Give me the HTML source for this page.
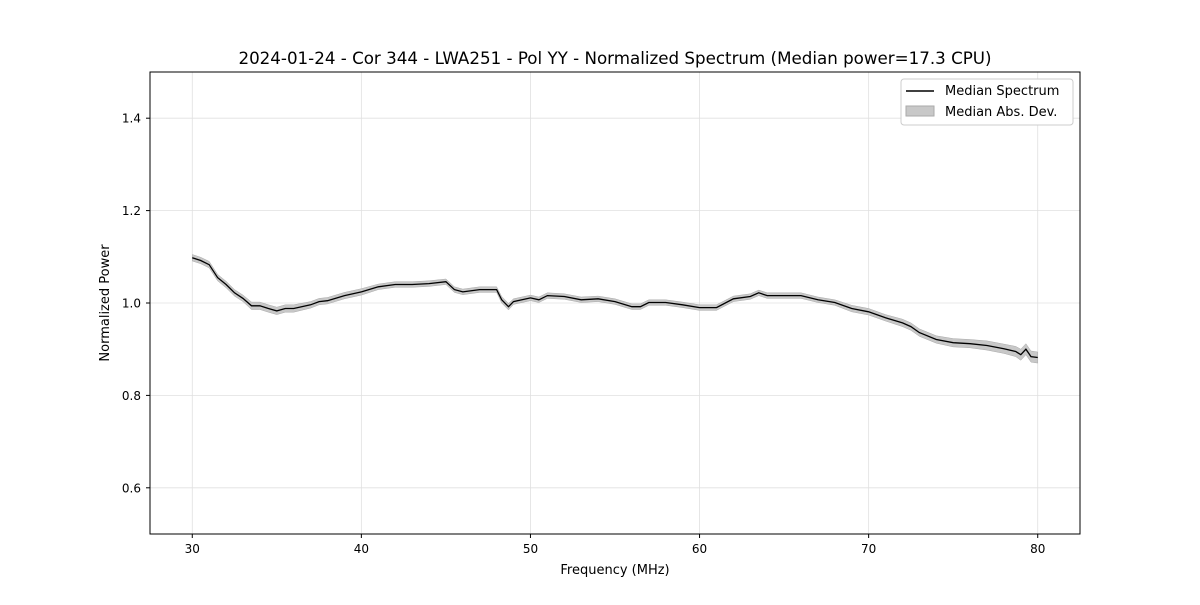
<!DOCTYPE html>
<html><head><meta charset="utf-8"><style>
body{margin:0;background:#fff;font-family:"Liberation Sans","DejaVu Sans",sans-serif}
svg text{font-family:"DejaVu Sans","Liberation Sans",sans-serif}
</style></head><body>
<svg id="chart" width="1200" height="600" viewBox="0 0 1200 600">
<rect width="1200" height="600" fill="#fff"/>
<g id="grid"></g>
<path id="band" fill="#c8c8c8" stroke="#aaa" stroke-width="0.5"/>
<path id="line" fill="none" stroke="#000" stroke-width="1.3"/>
<rect x="150" y="72" width="930" height="462" fill="none" stroke="#000" stroke-width="1"/>
<g id="ticks"></g>
<text x="615" y="64" text-anchor="middle" font-size="16.7">2024-01-24 - Cor 344 - LWA251 - Pol YY - Normalized Spectrum (Median power=17.3 CPU)</text>
<text x="615" y="574" text-anchor="middle" font-size="13">Frequency (MHz)</text>
<text x="109" y="303" text-anchor="middle" font-size="13" transform="rotate(-90 109 303)">Normalized Power</text>
<g>
<rect x="901" y="79" width="172" height="46" rx="3" fill="#fff" stroke="#ccc"/>
<line x1="906" y1="91" x2="934" y2="91" stroke="#000" stroke-width="1.5"/>
<text x="945" y="95" font-size="13">Median Spectrum</text>
<rect x="906" y="106" width="28" height="10" fill="#c8c8c8" stroke="#aaa"/>
<text x="945" y="116" font-size="13">Median Abs. Dev.</text>
</g>
</svg>
<script>
const freqs=[30,30.5,31,31.5,32,32.5,33,33.5,34,34.5,35,35.5,36,37,37.5,38,39,40,41,42,43,44,45,45.5,46,47,48,48.3,48.7,49,50,50.5,51,52,53,54,55,56,56.5,57,58,59,60,61,62,63,63.5,64,65,66,67,68,69,70,71,72,72.5,73,74,75,76,77,78,78.7,79,79.3,79.6,80];
const power=[1.098,1.092,1.083,1.055,1.04,1.022,1.01,0.994,0.994,0.988,0.983,0.988,0.988,0.996,1.003,1.005,1.016,1.024,1.035,1.04,1.04,1.042,1.046,1.029,1.024,1.029,1.029,1.007,0.992,1.003,1.011,1.007,1.016,1.014,1.007,1.009,1.003,0.992,0.992,1.001,1.001,0.996,0.99,0.99,1.009,1.014,1.022,1.016,1.016,1.016,1.007,1.001,0.988,0.981,0.968,0.957,0.949,0.936,0.921,0.914,0.912,0.908,0.901,0.895,0.888,0.9,0.884,0.882];
const mad=[0.007,0.007,0.007,0.007,0.007,0.007,0.007,0.008,0.008,0.008,0.008,0.008,0.008,0.007,0.007,0.007,0.007,0.007,0.006,0.006,0.006,0.006,0.006,0.006,0.006,0.006,0.006,0.007,0.007,0.006,0.006,0.006,0.006,0.006,0.006,0.006,0.006,0.006,0.006,0.006,0.006,0.006,0.006,0.006,0.006,0.006,0.006,0.006,0.006,0.006,0.006,0.006,0.007,0.007,0.007,0.008,0.008,0.008,0.008,0.009,0.009,0.01,0.01,0.011,0.012,0.012,0.012,0.012];
const xTicks=[30,40,50,60,70,80];
const yTicks=[0.6,0.8,1.0,1.2,1.4];
const X=f=>150+(f-27.5)/55*930;
const Y=v=>534-(v-0.5)*462;
const ns="http://www.w3.org/2000/svg";
const grid=document.getElementById('grid'),ticks=document.getElementById('ticks');
function mk(tag,at,parent){const e=document.createElementNS(ns,tag);for(const k in at)e.setAttribute(k,at[k]);parent.appendChild(e);return e;}
xTicks.forEach(t=>{const x=X(t);
const g=mk('line',{x1:x,x2:x,y1:72,y2:534,stroke:'#e0e0e0','stroke-width':0.8},grid);


mk('line',{x1:x,x2:x,y1:534,y2:538,stroke:'#000'},ticks);
const tx=mk('text',{x:x,y:553,'text-anchor':'middle','font-size':12},ticks);tx.textContent=t;

});
yTicks.forEach(t=>{const y=Y(t);
const g=mk('line',{x1:150,x2:1080,y1:y,y2:y,stroke:'#e0e0e0','stroke-width':0.8},grid);


mk('line',{x1:146,x2:150,y1:y,y2:y,stroke:'#000'},ticks);
const tx=mk('text',{x:141,y:y+4.5,'text-anchor':'end','font-size':12},ticks);tx.textContent=t.toFixed(1);

});
let d='';freqs.forEach((f,i)=>{d+=(i?'L':'M')+X(f).toFixed(1)+','+Y(power[i]).toFixed(1);});
document.getElementById('line').setAttribute('d',d);
let b='';freqs.forEach((f,i)=>{b+=(i?'L':'M')+X(f).toFixed(1)+','+Y(power[i]+mad[i]).toFixed(1);});
for(let i=freqs.length-1;i>=0;i--)b+='L'+X(freqs[i]).toFixed(1)+','+Y(power[i]-mad[i]).toFixed(1);
document.getElementById('band').setAttribute('d',b+'Z');
</script>
</body></html>
